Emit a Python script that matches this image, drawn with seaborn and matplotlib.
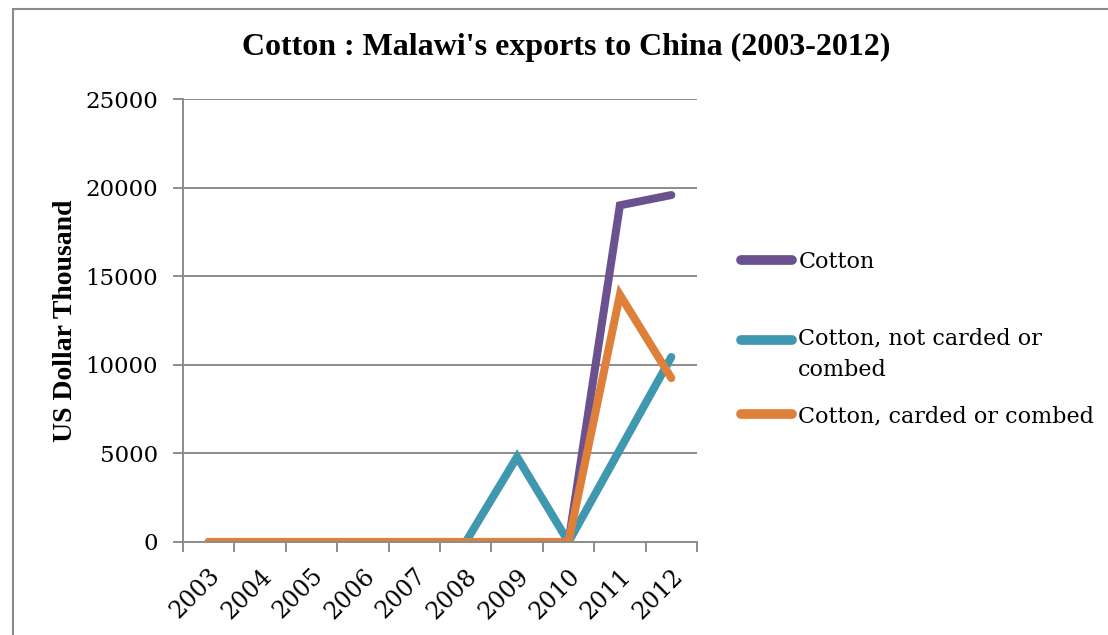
import matplotlib
matplotlib.use("Agg")
import matplotlib.pyplot as plt
from matplotlib.patches import Rectangle
from matplotlib.ticker import FixedLocator, MultipleLocator
import pandas as pd
import seaborn as sns

years = ["2003", "2004", "2005", "2006", "2007", "2008", "2009", "2010", "2011", "2012"]
cotton = [0, 0, 0, 0, 0, 0, 0, 0, 19000, 19580]
not_carded = [0, 0, 0, 0, 0, 0, 4800, 0, 5220, 10440]
carded = [0, 0, 0, 0, 0, 0, 0, 0, 13950, 9250]

series_names = ["Cotton", "Cotton, not carded or\ncombed", "Cotton, carded or combed"]
series_values = [cotton, not_carded, carded]
colors = ["#6B528F", "#4097B0", "#DE8039"]

df = pd.concat(
    [pd.DataFrame({"year": years, "value": v, "series": n})
     for n, v in zip(series_names, series_values)],
    ignore_index=True,
)

sns.set_theme(style="white")
plt.rcParams["font.family"] = ["DejaVu Serif"]
plt.rcParams["text.color"] = "black"
plt.rcParams["axes.labelcolor"] = "black"
plt.rcParams["xtick.color"] = "black"
plt.rcParams["ytick.color"] = "black"

W, H = 1108, 635
fig = plt.figure(figsize=(W / 100, H / 100), dpi=100)
ax = fig.add_axes([183 / W, 1 - 542 / H, (697 - 183) / W, (542 - 99) / H])

sns.lineplot(data=df, x="year", y="value", hue="series", palette=colors,
             hue_order=series_names, sort=False, linewidth=5.8, ax=ax,
             legend=True)
for ln in ax.lines:
    ln.set_solid_capstyle("round")
    ln.set_solid_joinstyle("miter")

handles, labels = ax.get_legend_handles_labels()
ax.get_legend().remove()

ax.set_xlim(-0.5, len(years) - 0.5)
ax.set_ylim(0, 25000)
ax.yaxis.set_major_locator(MultipleLocator(5000))
ax.grid(axis="y", color="#8C8C8C", linewidth=1.4)
ax.set_axisbelow(True)

for side in ["top", "right"]:
    ax.spines[side].set_visible(False)
for side in ["left", "bottom"]:
    ax.spines[side].set_color("#8C8C8C")
    ax.spines[side].set_linewidth(1.4)

ax.set_xticks(range(len(years)))
ax.set_xticklabels(years, rotation=45, ha="right", rotation_mode="anchor",
                   fontsize=17)
ax.xaxis.set_minor_locator(FixedLocator([i - 0.5 for i in range(len(years) + 1)]))
ax.tick_params(axis="x", which="major", length=0, pad=16, labelcolor="black")
ax.tick_params(axis="x", which="minor", bottom=True, length=7, width=1.4,
               color="#8C8C8C")
ax.tick_params(axis="y", which="major", left=True, length=7, width=1.4,
               color="#8C8C8C", labelsize=16.5, pad=11, labelcolor="black")

ax.set_xlabel("")
ax.set_ylabel("US Dollar Thousand", family="Liberation Serif", fontweight="bold",
              fontsize=20, labelpad=5, color="black")

fig.text(566 / W, 1 - 47 / H, "Cotton : Malawi's exports to China (2003-2012)",
         family="Liberation Serif", fontweight="bold", fontsize=23,
         ha="center", va="center", color="black")

# One legend block per series, stacked at the right of the plot area
legend_rows = [262, 354.5, 416]
for handle, label, row in zip(handles, labels, legend_rows):
    leg = fig.legend([handle], [label], loc="center left",
                     bbox_to_anchor=(740.5 / W, 1 - row / H),
                     frameon=False, fontsize=16, handlelength=2.3,
                     handletextpad=0.3, borderpad=0, borderaxespad=0)
    for t in leg.get_texts():
        t.set_linespacing(1.55)
        t.set_color("black")
    for h in leg.get_lines():
        h.set_linewidth(7)
        h.set_solid_capstyle("round")
        if "\n" in label:
            # keep the sample line level with the first text line
            h.set_ydata([y + 11 for y in h.get_ydata()])

fig.patches.append(Rectangle((13 / W, -0.1), 1.2, 1.1 - 9 / H,
                             transform=fig.transFigure, fill=False,
                             edgecolor="#8A8A8A", linewidth=1.5))

fig.savefig("out.png", dpi=100)
